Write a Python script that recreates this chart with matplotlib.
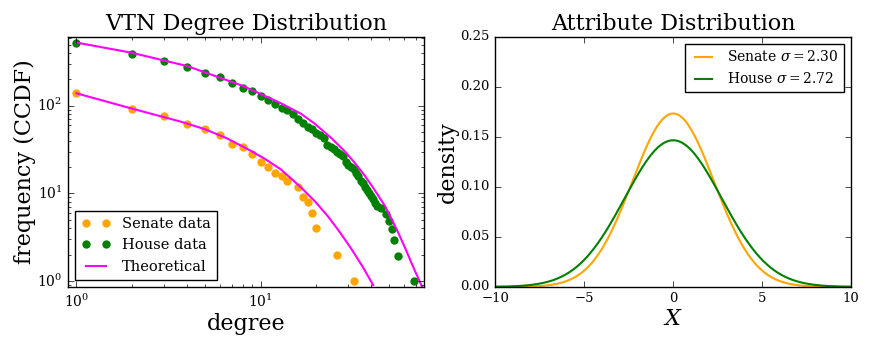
import numpy as np
import matplotlib
matplotlib.use("Agg")
from matplotlib import pyplot as plt

plt.style.use("classic")
plt.rcParams["font.family"] = ["DejaVu Serif"]
plt.rcParams["mathtext.fontset"] = "dejavuserif"
plt.rcParams["figure.facecolor"] = "white"

# degree distribution (CCDF)
senate_deg = [1, 2, 3, 4, 5, 6, 7, 8, 9, 10, 11, 12, 13, 14, 16, 17, 18, 19, 20, 26, 32]
senate_freq = [139, 93, 76, 62, 54, 46, 37, 34, 28, 23, 20, 17, 16, 14, 12, 9, 8, 6, 4, 2, 1]

house_deg = [1, 2, 3, 4, 5, 6, 7, 8, 9, 10, 11, 12, 13, 14, 15, 16, 17, 18, 19, 20,
             21, 22, 23, 24, 25, 26, 27, 28, 29, 30, 31, 32, 33, 34, 35, 36, 37, 38, 39, 40,
             41, 42, 43, 45, 48, 50, 52, 53, 56, 68]
house_freq = [527, 395, 324, 275, 239, 211, 184, 161, 147, 130, 116, 105, 94, 89, 80, 70, 63, 58, 54, 49,
              46, 43, 36, 34, 32, 30, 28, 27, 23, 21, 20, 19, 17, 16, 14, 13, 12, 11, 10, 9.4,
              8.6, 7.8, 7.2, 6.9, 5.9, 4.9, 3.9, 2.95, 1.95, 1]

# theoretical curves, sampled by eye along the magenta lines
senate_th_deg = [1, 2, 3.65, 5, 6.5, 8.46, 10.5, 12.9, 16.6, 20, 23.2, 27, 31.1, 36, 40.9]
senate_th_freq = [139, 93, 66.4, 54, 43, 32.3, 25, 18.8, 11.7, 7.9, 5.5, 3.6, 2.34, 1.44, 0.9]

house_th_deg = [1, 2, 4, 8, 12.9, 16.6, 19.6, 24.2, 28.6, 32.5, 36.8, 40.9, 47.4, 51.5, 56, 60.9, 67, 75.2]
house_th_freq = [527, 403, 284, 169, 107, 81, 63, 43, 30.4, 22.3, 16, 11.6, 7.2, 5.1, 3.55, 2.4, 1.5, 0.87]

# attribute distribution: zero-mean normal densities with the stated sigmas
sigma_senate = 2.30
sigma_house = 2.72
xs = np.linspace(-10, 10, 400)

fig = plt.figure(figsize=(8.72, 3.49), dpi=100)
ax1 = fig.add_axes([0.078, 0.178, 0.408, 0.716])
ax2 = fig.add_axes([0.568, 0.178, 0.408, 0.716])

ax1.plot(senate_deg, senate_freq, "o", color="orange", mec="none", ms=6, label="Senate data")
ax1.plot(house_deg, house_freq, "o", color="green", mec="none", ms=6, label="House data")
ax1.plot(senate_th_deg, senate_th_freq, "-", color="magenta", lw=1.5, label="Theoretical")
ax1.plot(house_th_deg, house_th_freq, "-", color="magenta", lw=1.5)
ax1.set_xscale("log")
ax1.set_yscale("log")
ax1.set_xlim(0.9, 77)
ax1.set_ylim(0.86, 610)
ax1.set_title("VTN Degree Distribution", fontsize=16)
ax1.set_xlabel("degree", fontsize=16, labelpad=2)
ax1.set_ylabel("frequency (CCDF)", fontsize=16, labelpad=1)
ax1.tick_params(labelsize=10)
ax1.legend(loc="lower left", fontsize=10.5, numpoints=2)

def normal_pdf(x, s):
    return np.exp(-x ** 2 / (2 * s ** 2)) / (s * np.sqrt(2 * np.pi))

ax2.plot(xs, normal_pdf(xs, sigma_senate), color="orange", lw=1.5,
         label=r"Senate $\sigma=%.2f$" % sigma_senate)
ax2.plot(xs, normal_pdf(xs, sigma_house), color="green", lw=1.5,
         label=r"House $\sigma=%.2f$" % sigma_house)
ax2.set_xlim(-10, 10)
ax2.set_ylim(0, 0.25)
ax2.set_yticks([0, 0.05, 0.10, 0.15, 0.20, 0.25])
ax2.set_title("Attribute Distribution", fontsize=16)
ax2.set_xlabel("$X$", fontsize=16, labelpad=2)
ax2.set_ylabel("density", fontsize=16, labelpad=1)
ax2.tick_params(labelsize=9.5)
ax2.legend(loc="upper right", fontsize=10, handlelength=1.8)

fig.savefig("out.png", dpi=100, facecolor="white")
